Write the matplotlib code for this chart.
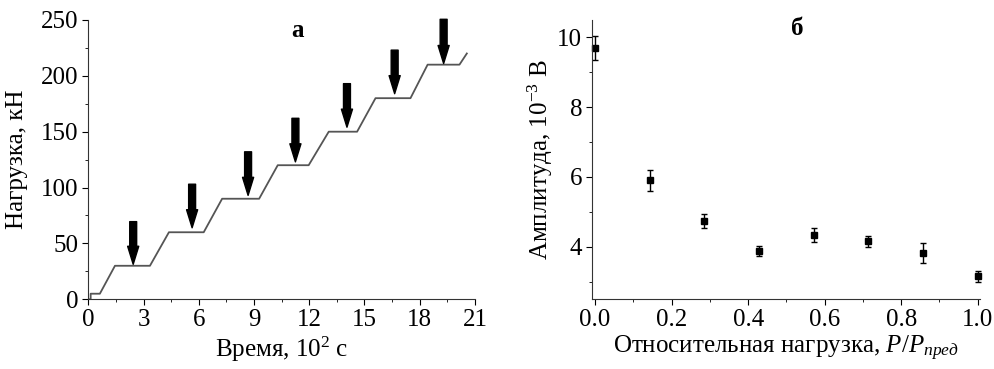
import numpy as np
import matplotlib.pyplot as plt

plt.rcParams['font.family'] = ['Liberation Serif', 'DejaVu Serif']
plt.rcParams['mathtext.fontset'] = 'custom'
plt.rcParams['mathtext.rm'] = 'Liberation Serif'
plt.rcParams['mathtext.it'] = 'Liberation Serif:italic'

# panel a: loading steps
time = [0, 0.13, 0.13, 0.63, 1.45, 3.35, 4.38, 6.27, 7.27, 9.28, 10.29, 11.97,
        13.06, 14.6, 15.6, 17.5, 18.43, 20.16, 20.56]
load = [0, 0, 5, 5, 30, 30, 60, 60, 90, 90, 120, 120,
        150, 150, 180, 180, 210, 210, 220]
arrow_x = [2.44, 5.64, 8.68, 11.25, 14.05, 16.64, 19.3]
arrow_top = [69.5, 103, 132, 162, 193, 223, 250.6]
arrow_tip = [31.3, 64, 93, 123, 154, 184, 211]

# panel b: amplitude vs relative load
rel_load = [0, 1/7, 2/7, 3/7, 4/7, 5/7, 6/7, 1.0]
amplitude = [9.7, 5.9, 4.75, 3.88, 4.33, 4.15, 3.82, 3.15]
amp_err = [0.35, 0.3, 0.2, 0.15, 0.2, 0.15, 0.3, 0.15]

fig = plt.figure(figsize=(9.94, 3.69), dpi=100)
ax1 = fig.add_axes([0.0888, 0.1889, 0.389, 0.757])
ax2 = fig.add_axes([0.5956, 0.1897, 0.3903, 0.756])

fs = 18

ax1.plot(time, load, color='#555555', lw=1.3)
for x, top, tip in zip(arrow_x, arrow_top, arrow_tip):
    ax1.annotate('', xy=(x, tip), xytext=(x, top),
                 arrowprops=dict(width=5, headwidth=8, headlength=13,
                                 shrink=0, color='black'),
                 annotation_clip=False)
ax1.set_xlim(0, 21)
ax1.set_ylim(0, 250)
ax1.set_xticks(np.arange(0, 22, 3))
ax1.set_xticks(np.arange(1.5, 21, 3), minor=True)
ax1.set_yticks(np.arange(0, 251, 50))
ax1.set_yticks(np.arange(25, 250, 50), minor=True)
ax1.set_xlabel('Время, 10$^2$ с', fontsize=fs)
ax1.set_ylabel('Нагрузка, кН', fontsize=fs)
ax1.text(0.542, 0.964, 'а', transform=ax1.transAxes, fontsize=fs,
         fontweight='bold', ha='center', va='center')

ax2.errorbar(rel_load, amplitude, yerr=amp_err, fmt='s', color='black',
             ms=5, capsize=2.5, elinewidth=1, clip_on=False)
ax2.set_xlim(-0.008, 1.006)
ax2.set_ylim(2.5, 10.5)
ax2.set_xticks(np.arange(0, 1.01, 0.2))
ax2.set_xticks(np.arange(0.1, 1.0, 0.2), minor=True)
ax2.set_yticks([4, 6, 8, 10])
ax2.set_yticks([3, 5, 7, 9], minor=True)
ax2.set_xlabel(r'Относительная нагрузка, $P/P_{\mathit{пред}}$', fontsize=fs)
ax2.set_ylabel('Амплитуда, 10$^{-3}$ В', fontsize=fs)
ax2.text(0.528, 0.970, 'б', transform=ax2.transAxes, fontsize=fs,
         fontweight='bold', ha='center', va='center')

for ax in (ax1, ax2):
    ax.spines['top'].set_visible(False)
    ax.spines['right'].set_visible(False)
    ax.spines['left'].set_color('#333333')
    ax.spines['bottom'].set_color('#333333')
    ax.tick_params(which='major', direction='out', length=4, labelsize=fs, pad=3)
    ax.tick_params(which='minor', direction='out', length=2.5)
    ax.xaxis.set_label_coords(0.5, -0.125)

ax1.yaxis.set_label_coords(-0.156, 0.5)
ax2.yaxis.set_label_coords(-0.095, 0.5)

fig.savefig('out.png', dpi=100)
